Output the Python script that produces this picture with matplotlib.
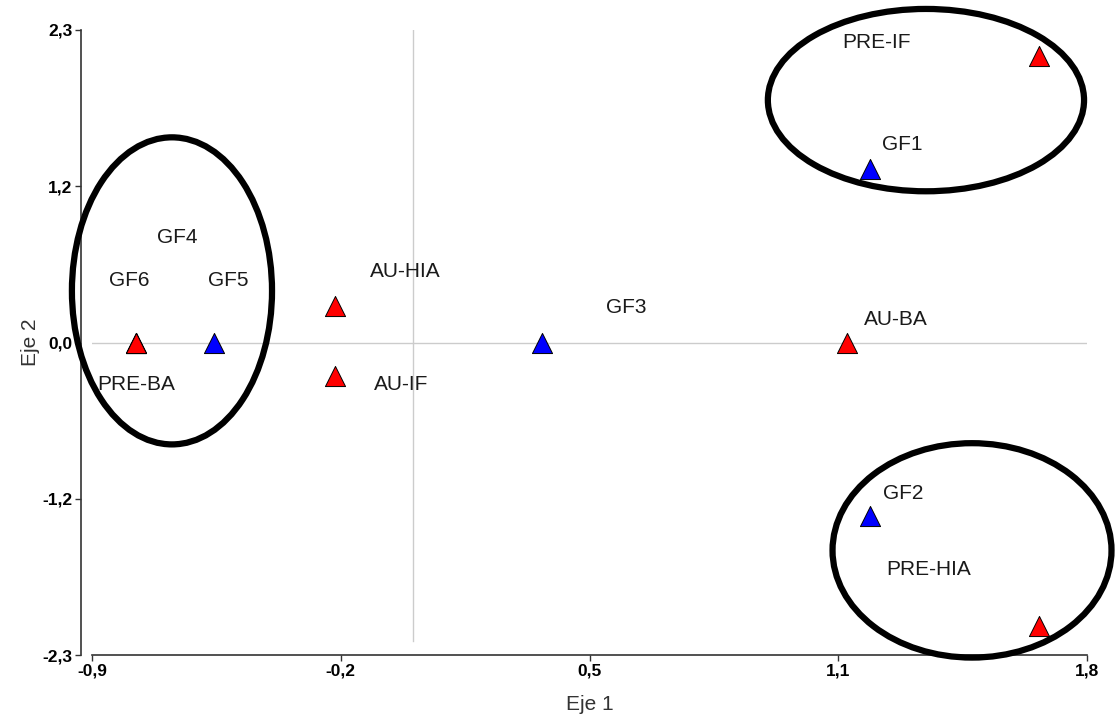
import numpy as np
import matplotlib
matplotlib.use("Agg")
import matplotlib.pyplot as plt
from matplotlib.patches import Ellipse

plt.rcParams['font.family'] = ['Liberation Sans', 'DejaVu Sans']

# biplot scores
site_names = ['PRE-BA', 'AU-HIA', 'AU-IF', 'AU-BA', 'PRE-IF', 'PRE-HIA']
site_x = [-0.78, -0.24, -0.24, 1.15, 1.67, 1.67]
site_y = [0.0, 0.27, -0.25, 0.0, 2.11, -2.09]

group_names = ['GF1', 'GF2', 'GF3', 'GF4', 'GF5', 'GF6']
group_x = [1.21, 1.21, 0.32, -0.78, -0.57, -0.78]
group_y = [1.28, -1.28, 0.0, 0.0, 0.0, 0.0]

# where the text labels sit (data coords)
site_lab_x = [-0.78, -0.05, -0.06, 1.28, 1.23, 1.37]
site_lab_y = [-0.31, 0.52, -0.31, 0.17, 2.21, -1.67]
group_lab_x = [1.30, 1.30, 0.55, -0.67, -0.53, -0.80]
group_lab_y = [1.46, -1.11, 0.26, 0.77, 0.46, 0.46]

xticks_lab = ['-0,9', '-0,2', '0,5', '1,1', '1,8']
yticks_lab = ['-2,3', '-1,2', '0,0', '1,2', '2,3']

# grouping ellipses: (cx, cy, width, height)
ellipses = [(-0.683, 0.38, 0.543, 2.26),
            (1.363, 1.784, 0.858, 1.342),
            (1.488, -1.53, 0.757, 1.578)]

fig = plt.figure(figsize=(11.17, 7.18), dpi=100)
ax = fig.add_axes([92/1117, 1-655/718, (1087-92)/1117, (655-30)/718])

# spines first (set_position resets the ticks)
ax.spines['top'].set_visible(False)
ax.spines['right'].set_visible(False)
ax.spines['left'].set_position(('outward', 8))
ax.spines['left'].set_color('#333333')
ax.spines['bottom'].set_color('#333333')
ax.spines['left'].set_linewidth(1.2)
ax.spines['bottom'].set_linewidth(1.2)

ax.set_xlim(-0.9, 1.8)
ax.set_ylim(-2.3, 2.3)

# reference lines
ax.axhline(0, color='#cccccc', lw=1, zorder=1)
ax.plot([-0.03, -0.03], [-2.2, 2.3], color='#cccccc', lw=1, zorder=1)

ax.scatter(group_x, group_y, marker='^', s=210, c='#0000ff', edgecolors='black', linewidths=0.7, zorder=3)
ax.scatter(site_x, site_y, marker='^', s=210, c='#ff0000', edgecolors='black', linewidths=0.7, zorder=3)

for name, x, y in zip(site_names, site_lab_x, site_lab_y):
    ax.text(x, y, name, ha='center', va='center', fontsize=15, color='#1a1a1a', zorder=4)
for name, x, y in zip(group_names, group_lab_x, group_lab_y):
    ax.text(x, y, name, ha='center', va='center', fontsize=15, color='#1a1a1a', zorder=4)

for cx, cy, w, h in ellipses:
    e = Ellipse((cx, cy), w, h, fill=False, edgecolor='black', lw=4.5, zorder=5, clip_on=False)
    ax.add_patch(e)

ax.tick_params(direction='out', length=4, width=1, color='#333333', pad=2)
ax.set_xticks(np.linspace(-0.9, 1.8, 5), labels=xticks_lab, fontsize=12.5, fontweight='bold')
ax.set_yticks(np.linspace(-2.3, 2.3, 5), labels=yticks_lab, fontsize=12.5, fontweight='bold')

ax.set_xlabel('Eje 1', fontsize=15, color='#333333', labelpad=12)
ax.set_ylabel('Eje 2', fontsize=15, color='#333333', labelpad=2)

fig.savefig('out.png', dpi=100)
